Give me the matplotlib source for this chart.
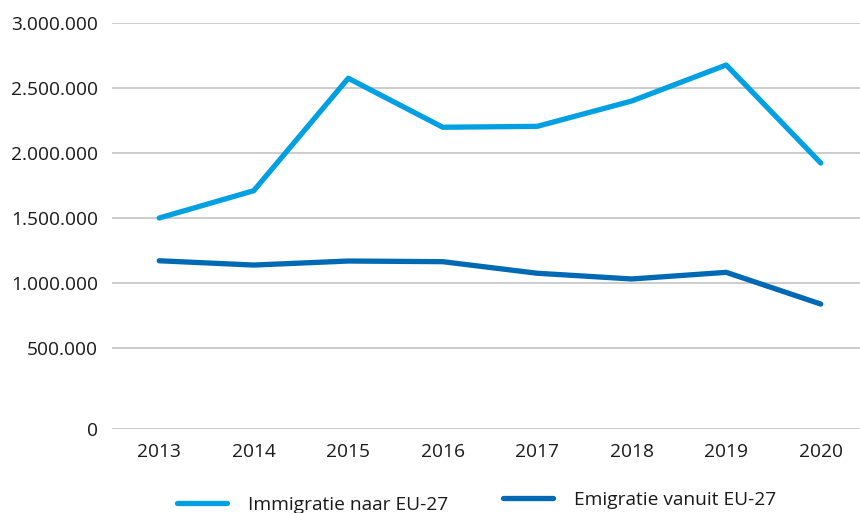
import numpy as np
import matplotlib
matplotlib.use("Agg")
import matplotlib.pyplot as plt
from matplotlib.ticker import FuncFormatter

# data
years = ["2013", "2014", "2015", "2016", "2017", "2018", "2019", "2020"]
immigratie = [1500000, 1710000, 2575000, 2198000, 2205000, 2400000, 2677000, 1923000]
emigratie = [1171000, 1138000, 1169000, 1164000, 1075000, 1031000, 1082000, 838000]
y_ticks = [0, 500000, 1000000, 1500000, 2000000, 2500000, 3000000]

labels = ["Immigratie naar EU-27", "Emigratie vanuit EU-27"]
colors = ["#00A0E2", "#0069B4"]

# the bottom band (0 - 500.000) is drawn a little taller than the others
K = 81 / 65
B = 500000


def forward(y):
    y = np.asarray(y, dtype=float)
    return np.where(y < B, y * K, B * K + (y - B))


def inverse(t):
    t = np.asarray(t, dtype=float)
    return np.where(t < B * K, t / K, t - B * K + B)


def dutch_thousands(v, pos):
    return f"{int(round(v)):,}".replace(",", ".")


plt.rcParams["font.family"] = ["Open Sans", "DejaVu Sans"]
FS = 13.8

fig = plt.figure(figsize=(8.6, 5.13), dpi=100)
ax = fig.add_axes([112 / 860, (513 - 429) / 513, (868 - 112) / 860, (429 - 23) / 513])

x = np.arange(len(years))
l1, = ax.plot(x, immigratie, color=colors[0], lw=3.8, solid_capstyle="round",
              solid_joinstyle="round", label=labels[0])
l2, = ax.plot(x, emigratie, color=colors[1], lw=3.8, solid_capstyle="round",
              solid_joinstyle="round", label=labels[1])

ax.set_yscale("function", functions=(forward, inverse))
ax.set_ylim(0, 3000000)
ax.set_xlim(-0.5, len(years) - 0.5)
ax.set_yticks(y_ticks)
ax.yaxis.set_major_formatter(FuncFormatter(dutch_thousands))
ax.set_xticks(x)
ax.set_xticklabels(years)
ax.yaxis.grid(True, color="#BFBFBF", lw=1.1)
ax.set_axisbelow(True)
for s in ax.spines.values():
    s.set_visible(False)
ax.tick_params(axis="both", length=0, labelsize=FS, colors="#1a1a1a")
ax.tick_params(axis="y", pad=10)
ax.tick_params(axis="x", pad=10)

# two legend entries, sitting at slightly different heights like the original
leg_kw = dict(loc="center left", frameon=False, fontsize=FS, handlelength=2.6,
              handletextpad=1.1, borderaxespad=0, borderpad=0, labelcolor="#1a1a1a")
leg1 = fig.legend(handles=[l1], bbox_to_anchor=(177 / 860, (513 - 505) / 513), **leg_kw)
leg2 = fig.legend(handles=[l2], bbox_to_anchor=(503 / 860, (513 - 500) / 513), **leg_kw)

fig.savefig("out.png", dpi=100)
